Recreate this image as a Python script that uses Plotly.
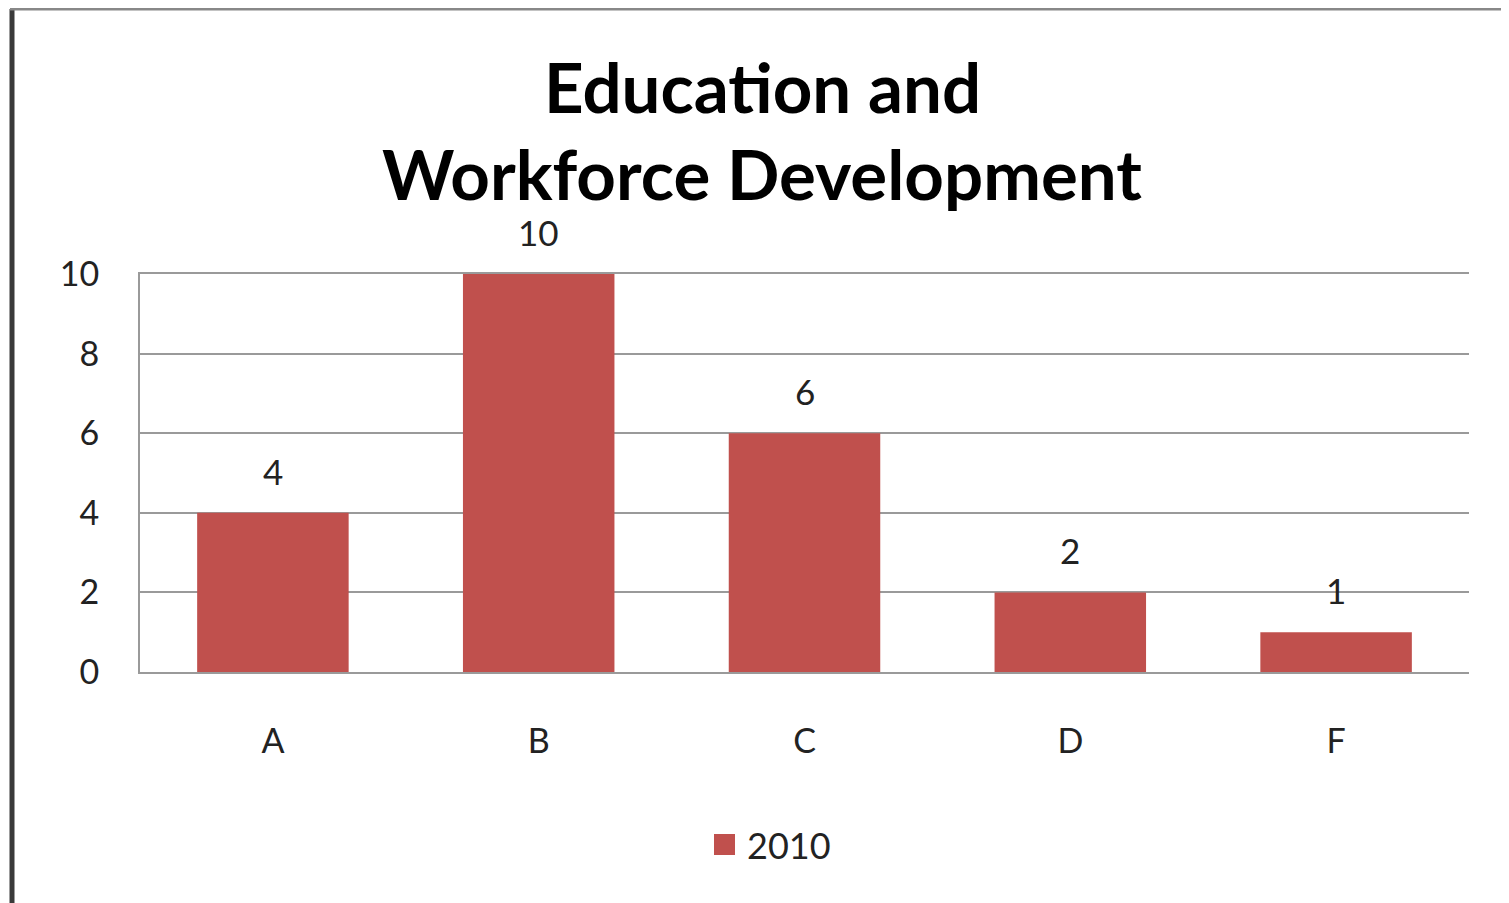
import plotly.graph_objects as go

categories = ["A", "B", "C", "D", "F"]
values_2010 = [4, 10, 6, 2, 1]
series_name = "2010"
title_lines = ["Education and", "Workforce Development"]
y_ticks = [0, 2, 4, 6, 8, 10]

OFF = 8  # page body margin
W, H = 1509 - OFF, 903 - OFF
L, R, T, B = 140 - OFF, 40, 274 - OFF, 231
pw, ph = W - L - R, H - T - B

def px(sx):
    return (sx - OFF - L) / pw

def py(sy):
    return (H - B - (sy - OFF)) / ph

bar_color = "#C0504D"
font = "Lato, 'Open Sans', sans-serif"
txt_color = "#222"

fig = go.Figure()
fig.add_trace(go.Bar(
    x=categories, y=values_2010, name=series_name,
    marker=dict(color=bar_color, line=dict(width=0)),
    showlegend=False,
))

# data labels above bars
for cat, v in zip(categories, values_2010):
    fig.add_annotation(x=cat, y=v, xref="x", yref="y", text=str(v), showarrow=False,
                       yanchor="middle", yshift=42,
                       font=dict(family=font, size=35, color=txt_color))

# title (two lines)
for line, sy in zip(title_lines, [86, 173]):
    fig.add_annotation(x=px(762), y=py(sy), xref="paper", yref="paper", text=line,
                       showarrow=False, xanchor="center", yanchor="middle", height=76,
                       font=dict(family=font, size=69, color="black", weight="bold"))

# legend
fig.add_shape(type="rect", xref="paper", yref="paper",
              x0=px(714), x1=px(735), y0=py(855), y1=py(834),
              fillcolor=bar_color, line=dict(width=0))
fig.add_annotation(x=px(745), y=py(845), xref="paper", yref="paper", text=series_name,
                   showarrow=False, xanchor="left", yanchor="middle",
                   font=dict(family=font, size=36, color=txt_color))

fig.update_layout(
    width=W, height=H,
    margin=dict(l=L, r=R, t=T, b=B),
    paper_bgcolor="white", plot_bgcolor="white",
    bargap=0.43,
    showlegend=False,
    xaxis=dict(showline=True, mirror=True, linecolor="#9a9a9a", linewidth=2, ticks="",
               tickfont=dict(family=font, size=34, color=txt_color),
               showgrid=False, ticklabelstandoff=38),
    yaxis=dict(range=[0, 10], tickvals=y_ticks, showline=True, linecolor="#9a9a9a", linewidth=2,
               showgrid=True, gridcolor="#9a9a9a", gridwidth=2, zeroline=False,
               tickfont=dict(family=font, size=34, color=txt_color), ticks="",
               ticklabelstandoff=32),
)

# outer frame (left dark edge, top gray edge)
fig.add_shape(type="line", xref="paper", yref="paper", x0=px(12), x1=px(12), y0=py(9), y1=py(903),
              line=dict(color="#3a3a3a", width=5), layer="above")
fig.add_shape(type="line", xref="paper", yref="paper", x0=px(10), x1=px(1509), y0=py(9), y1=py(9),
              line=dict(color="#888888", width=3), layer="above")

fig.write_html("out.html")
